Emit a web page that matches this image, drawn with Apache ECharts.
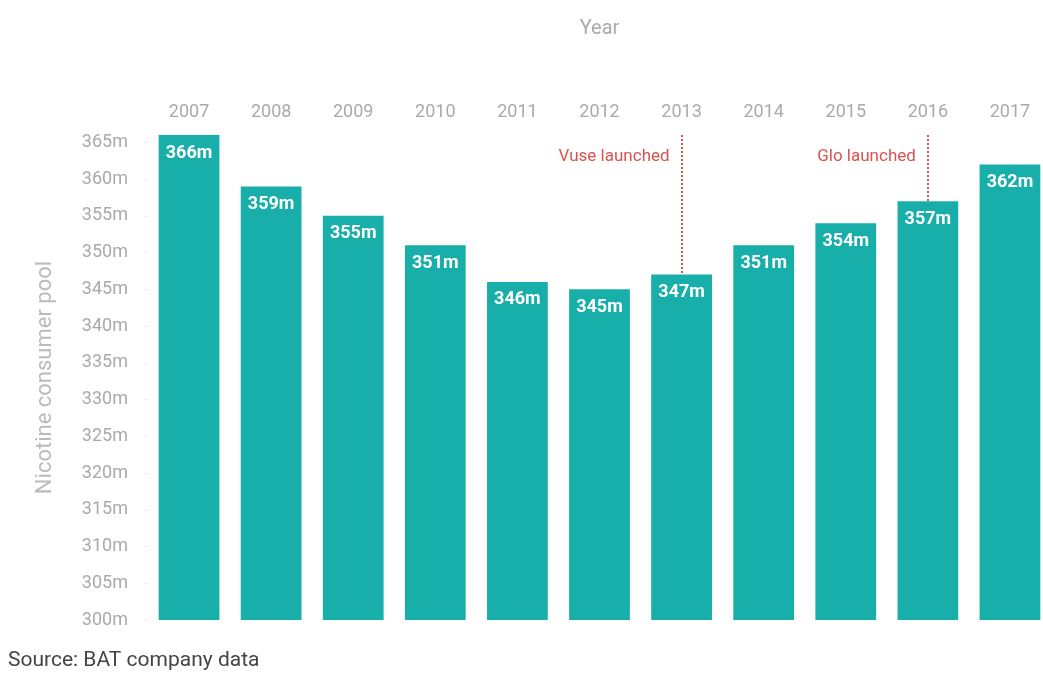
<!DOCTYPE html>
<html lang="en">
<head>
    <meta charset="utf-8"/>
    <title>Nicotine consumer pool</title>
    <script src="https://cdn.jsdelivr.net/npm/echarts@6/dist/echarts.min.js"></script>
</head>
<body style="margin:0;background:#fff;">
<div id="chart" style="width:1043px;height:679px;"></div>
<script type="text/javascript">
    // 数据
    var years = ['2007', '2008', '2009', '2010', '2011', '2012', '2013', '2014', '2015', '2016', '2017'];
    var pool = [366, 359, 355, 351, 346, 345, 347, 351, 354, 357, 362];
    var eventYears = ['2013', '2016'];
    var eventNames = ['Vuse launched', 'Glo launched'];

    var chart = echarts.init(document.getElementById('chart'));

    var lines = [];
    var points = [];
    eventYears.forEach(function (y, i) {
        var v = pool[years.indexOf(y)];
        lines.push([{coord: [y, 366]}, {coord: [y, v]}]);
        points.push({coord: [y, 363], value: eventNames[i]});
    });

    chart.setOption({
        animation: false,
        grid: {left: 148, width: 903, top: 135, bottom: 59, outerBoundsMode: 'none'},
        xAxis: {
            type: 'category',
            data: years,
            position: 'top',
            name: 'Year',
            nameLocation: 'middle',
            nameGap: 96,
            nameTextStyle: {color: '#aaa', fontSize: 20, fontFamily: 'Roboto'},
            axisLine: {show: false},
            axisTick: {show: false},
            axisLabel: {color: '#aaa', fontSize: 18, fontFamily: 'Roboto', margin: 14}
        },
        yAxis: {
            type: 'value',
            min: 300,
            max: 366,
            interval: 5,
            name: 'Nicotine consumer pool',
            nameLocation: 'middle',
            nameGap: 92,
            nameTextStyle: {color: '#bbb', fontSize: 22, fontFamily: 'Roboto'},
            splitLine: {show: false},
            axisLine: {show: false},
            axisTick: {show: true, length: 4, lineStyle: {color: '#eee'}},
            axisLabel: {
                color: '#aaa', fontSize: 18, fontFamily: 'Roboto', margin: 20,
                showMaxLabel: false,
                formatter: function (v) { return v + 'm'; }
            }
        },
        series: [{
            type: 'bar',
            data: pool,
            barCategoryGap: '26%',
            itemStyle: {color: '#18aeaa'},
            label: {
                show: true,
                position: 'insideTop',
                distance: 9,
                color: '#fff',
                fontWeight: 'bold',
                fontSize: 18,
                fontFamily: 'Roboto',
                formatter: function (p) { return p.value + 'm'; }
            },
            markLine: {
                silent: true,
                symbol: 'none',
                lineStyle: {color: '#d9534f', type: 'dotted', width: 2},
                label: {show: false},
                data: lines
            },
            markPoint: {
                silent: true,
                symbol: 'circle',
                symbolSize: 0,
                label: {
                    show: true,
                    position: 'left',
                    distance: 12,
                    color: '#d9534f',
                    fontSize: 17,
                    fontFamily: 'Roboto',
                    formatter: function (p) { return p.value; }
                },
                data: points
            }
        }],
        graphic: [{
            type: 'text',
            left: 8,
            top: 650,
            style: {text: 'Source: BAT company data', fill: '#444', fontSize: 21, fontFamily: 'Roboto'}
        }]
    });
</script>
</body>
</html>
